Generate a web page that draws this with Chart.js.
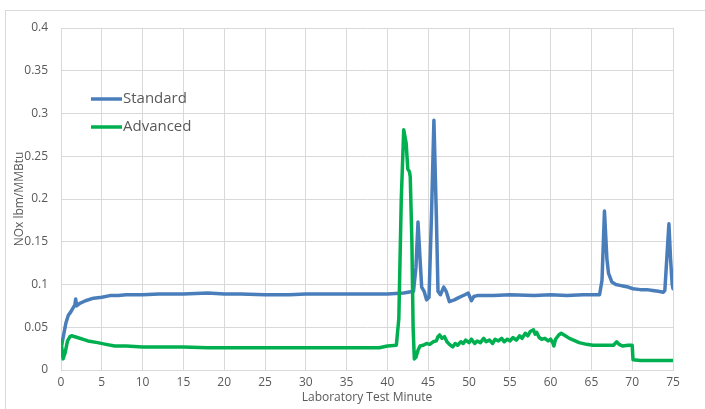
<!DOCTYPE html>
<html>
<head>
<meta charset="utf-8">
<script src="https://cdn.jsdelivr.net/npm/chart.js@4.4.1/dist/chart.umd.min.js"></script>
<style>
  html, body { margin: 0; padding: 0; background: #fff; }
  #wrap { width: 705px; height: 409px; position: relative; }
</style>
</head>
<body>
<div id="wrap"><canvas id="nox-chart" width="705" height="409"></canvas></div>
<script>
// ── data ──
const seriesNames = ['Standard', 'Advanced'];

const stdMin = [0.1, 0.3, 0.6, 0.9, 1.2, 1.5, 1.7, 1.8, 1.9, 2.3, 3, 4, 5, 6, 7, 8, 10, 12, 15, 18, 20, 22, 25, 28, 30, 33, 35, 37, 40, 42,
  43.2, 43.5, 43.75, 44.0, 44.2, 44.5, 44.8, 45.1, 45.4, 45.7, 46.0, 46.2, 46.5, 46.9, 47.2, 47.6, 48.2, 48.8, 49.5, 49.9, 50.3, 50.6,
  51, 53, 55, 58, 60, 62, 64, 66.0, 66.3, 66.6, 66.9, 67.1, 67.5, 68.0, 68.5, 69.0, 69.5, 70.1, 71, 71.8, 72.5, 73.2, 73.8, 74.0,
  74.3, 74.5, 74.7, 74.9, 75.0];
const stdVal = [0.030, 0.040, 0.055, 0.064, 0.068, 0.073, 0.076, 0.083, 0.075, 0.078, 0.081, 0.084, 0.085, 0.087, 0.087, 0.088, 0.088, 0.089, 0.089, 0.090, 0.089, 0.089, 0.088, 0.088, 0.089, 0.089, 0.089, 0.089, 0.089, 0.090,
  0.092, 0.120, 0.173, 0.130, 0.097, 0.092, 0.082, 0.085, 0.180, 0.292, 0.180, 0.092, 0.088, 0.097, 0.092, 0.080, 0.082, 0.085, 0.088, 0.090, 0.081, 0.086,
  0.087, 0.087, 0.088, 0.087, 0.088, 0.087, 0.088, 0.088, 0.105, 0.186, 0.130, 0.113, 0.103, 0.100, 0.099, 0.098, 0.097, 0.095, 0.094, 0.094, 0.093, 0.092, 0.091, 0.093,
  0.140, 0.171, 0.130, 0.100, 0.095];

const advMin = [0.0, 0.25, 0.5, 0.8, 1.1, 1.3, 2.0, 3.3, 4.5, 5.5, 6.6, 8, 10, 12, 15, 18, 20, 23, 25, 28, 30, 33, 35, 37, 39, 40,
  41.1, 41.4, 41.7, 42.0, 42.3, 42.5, 42.7, 42.8, 43.0, 43.15, 43.3, 43.5, 43.75, 44.0, 44.4, 44.8, 45.2, 45.6, 46.0, 46.2, 46.4, 46.7,
  47.0, 47.3, 47.6, 48.0, 48.3, 48.6, 49.0, 49.3, 49.6, 50.0, 50.3, 50.7, 51.0, 51.4, 51.8, 52.1, 52.5, 52.9, 53.2, 53.6, 54.0, 54.3,
  54.7, 55.0, 55.4, 55.8, 56.2, 56.5, 56.9, 57.2, 57.5, 57.9, 58.1, 58.3, 58.6, 58.9, 59.3, 59.7, 60.0, 60.3, 60.4, 60.6, 61.0, 61.3,
  61.8, 62.3, 62.8, 63.5, 64.4, 65.2, 66.0, 67.0, 67.7, 68.1, 68.4, 68.8, 69.5, 70.0, 70.1, 71, 72, 73, 74, 75];
const advVal = [0.035, 0.013, 0.020, 0.034, 0.039, 0.040, 0.038, 0.034, 0.032, 0.030, 0.028, 0.028, 0.027, 0.027, 0.027, 0.026, 0.026, 0.026, 0.026, 0.026, 0.026, 0.026, 0.026, 0.026, 0.026, 0.028,
  0.029, 0.060, 0.200, 0.281, 0.265, 0.235, 0.232, 0.226, 0.150, 0.050, 0.013, 0.015, 0.023, 0.028, 0.029, 0.031, 0.030, 0.033, 0.034, 0.039, 0.041, 0.037,
  0.039, 0.033, 0.030, 0.027, 0.031, 0.029, 0.033, 0.031, 0.035, 0.032, 0.036, 0.031, 0.034, 0.032, 0.037, 0.033, 0.035, 0.031, 0.036, 0.034, 0.037, 0.033,
  0.036, 0.034, 0.038, 0.035, 0.040, 0.037, 0.043, 0.040, 0.045, 0.047, 0.042, 0.044, 0.038, 0.036, 0.037, 0.034, 0.036, 0.031, 0.028, 0.036, 0.041, 0.043,
  0.040, 0.037, 0.035, 0.032, 0.030, 0.029, 0.029, 0.029, 0.029, 0.033, 0.030, 0.028, 0.029, 0.029, 0.012, 0.011, 0.011, 0.011, 0.011, 0.011];

const yTickLabels = ['0', '0.05', '0.1', '0.15', '0.2', '0.25', '0.3', '0.35', '0.4'];
const xTickLabels = ['0', '5', '10', '15', '20', '25', '30', '35', '40', '45', '50', '55', '60', '65', '70', '75'];

const BLUE  = '#4A7EBB';
const GREEN = '#00B050';
const GRID  = '#D9D9D9';
const TEXT  = '#595959';
const FONT  = "'Open Sans', 'DejaVu Sans', sans-serif";

const pts = (xs, ys) => xs.map((x, i) => ({ x, y: ys[i] }));

// outer chart frame
const framePlugin = {
  id: 'frame',
  beforeDraw(chart) {
    const c = chart.ctx;
    c.save();
    c.strokeStyle = GRID;
    c.lineWidth = 1;
    c.strokeRect(5.5, 10.5, 730, 430);
    c.restore();
  }
};

// legend inside the plot, upper left
const insideLegend = {
  id: 'insideLegend',
  afterDraw(chart) {
    const c = chart.ctx;
    const a = chart.chartArea;
    c.save();
    c.font = '15px ' + FONT;
    c.textBaseline = 'middle';
    c.textAlign = 'left';
    seriesNames.forEach((name, i) => {
      const ds = chart.data.datasets.find(d => d.label === name);
      const y = a.top + 71 + i * 28;
      c.strokeStyle = ds.borderColor;
      c.lineWidth = 3.5;
      c.beginPath();
      c.moveTo(a.left + 30, y);
      c.lineTo(a.left + 61, y);
      c.stroke();
      c.fillStyle = TEXT;
      c.fillText(name, a.left + 62, y);
    });
    c.restore();
  }
};

new Chart(document.getElementById('nox-chart'), {
  type: 'line',
  data: {
    datasets: [
      {
        label: seriesNames[0],
        data: pts(stdMin, stdVal),
        borderColor: BLUE,
        borderWidth: 3.5,
        borderJoinStyle: 'round',
        borderCapStyle: 'round',
        pointRadius: 0,
        tension: 0,
        order: 2,
      },
      {
        label: seriesNames[1],
        data: pts(advMin, advVal),
        borderColor: GREEN,
        borderWidth: 3.5,
        borderJoinStyle: 'round',
        borderCapStyle: 'round',
        pointRadius: 0,
        tension: 0,
        order: 1,
      }
    ]
  },
  options: {
    responsive: false,
    animation: false,
    layout: { padding: { top: 28, right: 32, left: 0, bottom: 0 } },
    plugins: {
      legend: { display: false },
      tooltip: { enabled: false }
    },
    scales: {
      x: {
        type: 'linear',
        min: 0, max: 75,
        grid: { color: GRID, drawTicks: false },
        border: { color: GRID },
        ticks: {
          stepSize: 5, padding: 5, color: TEXT, font: { family: FONT, size: 12 },
          callback: (v) => xTickLabels[Math.round(v / 5)]
        },
        title: { display: true, text: 'Laboratory Test Minute', color: TEXT, font: { family: FONT, size: 12 }, padding: { top: 0, bottom: 4 } },
        afterFit(scale) { scale.height = 39; }
      },
      y: {
        min: 0, max: 0.4,
        grid: { color: GRID, drawTicks: false },
        border: { color: GRID },
        ticks: {
          stepSize: 0.05, padding: 13, color: TEXT, font: { family: FONT, size: 12 },
          callback: (v) => yTickLabels[Math.round(v / 0.05)]
        },
        title: { display: true, text: 'NOx lbm/MMBtu', color: TEXT, font: { family: FONT, size: 12 }, padding: { top: 12, bottom: 0 } },
        afterFit(scale) { scale.width = 61; }
      }
    }
  },
  plugins: [framePlugin, insideLegend]
});
</script>
</body>
</html>
